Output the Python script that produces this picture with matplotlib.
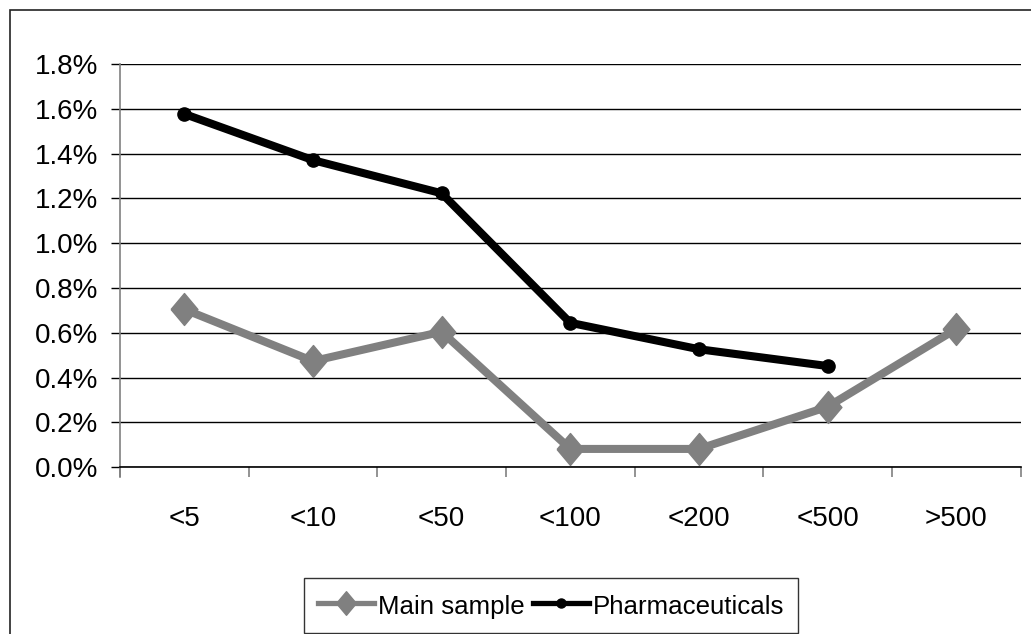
import matplotlib
matplotlib.use("Agg")
import matplotlib.pyplot as plt
from matplotlib.lines import Line2D
from matplotlib.patches import Rectangle
from matplotlib.ticker import FixedLocator, FuncFormatter

plt.rcParams['font.family'] = ['Liberation Sans', 'DejaVu Sans']

# Firm-size classes and rates (in percent)
categories = ["<5", "<10", "<50", "<100", "<200", "<500", ">500"]
main_sample = [0.705, 0.474, 0.605, 0.082, 0.082, 0.270, 0.617]
pharmaceuticals = [1.577, 1.371, 1.223, 0.645, 0.527, 0.452]
y_ticks = [0.0, 0.2, 0.4, 0.6, 0.8, 1.0, 1.2, 1.4, 1.6, 1.8]

W, H = 1031, 634
fig = plt.figure(figsize=(W / 100, H / 100), dpi=100)

# Chart-area frame (runs past the right and bottom edges)
fig.patches.append(Rectangle((9.5 / W, -0.2), 1.2, 0.2 + (H - 10.5) / H,
                             transform=fig.transFigure, fill=False,
                             edgecolor='#222222', linewidth=1.2))

left, right, top, bottom = 120, 1020.5, 64, 467.3
ax = fig.add_axes([left / W, (H - bottom) / H, (right - left) / W, (bottom - top) / H])

# Slightly tall diamond marker
tall_diamond = [(-0.42, 0.0), (0.0, 0.5), (0.42, 0.0), (0.0, -0.5), (-0.42, 0.0)]

x = [i + 0.5 for i in range(len(categories))]
ax.plot(x, main_sample, color='#808080', linewidth=5.8, marker=tall_diamond,
        markersize=23, solid_joinstyle='round', zorder=3)
ax.plot(x[:len(pharmaceuticals)], pharmaceuticals, color='black', linewidth=5.8,
        marker='o', markersize=9.5, solid_joinstyle='round', zorder=4)

ax.set_xlim(0, len(categories))
ax.set_ylim(0, 1.8)

for s in ['top', 'right']:
    ax.spines[s].set_visible(False)
ax.spines['left'].set_color('#808080')
ax.spines['left'].set_linewidth(1.2)
ax.spines['left'].set_bounds(-0.045, 1.8)
ax.spines['bottom'].set_color('black')
ax.spines['bottom'].set_linewidth(1.2)

ax.yaxis.set_major_locator(FixedLocator(y_ticks))
ax.yaxis.set_major_formatter(FuncFormatter(lambda v, p: f"{v:.1f}%"))
ax.yaxis.grid(True, color='black', linewidth=1.0)
ax.set_axisbelow(True)
ax.tick_params(axis='y', length=6.5, width=1.0, color='black', pad=9,
               labelsize=20)

ax.xaxis.set_major_locator(FixedLocator(x))
ax.set_xticklabels(categories)
ax.xaxis.set_minor_locator(FixedLocator(list(range(len(categories) + 1))))
ax.tick_params(axis='x', which='major', length=0, pad=28, labelsize=20)
ax.tick_params(axis='x', which='minor', length=7.5, width=1.2, color='#808080')

handles = [
    Line2D([], [], color='#808080', linewidth=3.8, marker=tall_diamond, markersize=17),
    Line2D([], [], color='black', linewidth=3.8, marker='o', markersize=6.5),
]
leg = fig.legend(handles, ["Main sample", "Pharmaceuticals"], ncol=2,
                 loc='lower left', bbox_to_anchor=(304 / W, 1.0 / H),
                 fontsize=18.6, frameon=True, fancybox=False, shadow=False,
                 edgecolor='black', handlelength=2.15, handleheight=1.2,
                 handletextpad=0.15, columnspacing=0.35, borderpad=0.55,
                 borderaxespad=0)
leg.get_frame().set_linewidth(1.0)

fig.savefig("out.png", dpi=100)
